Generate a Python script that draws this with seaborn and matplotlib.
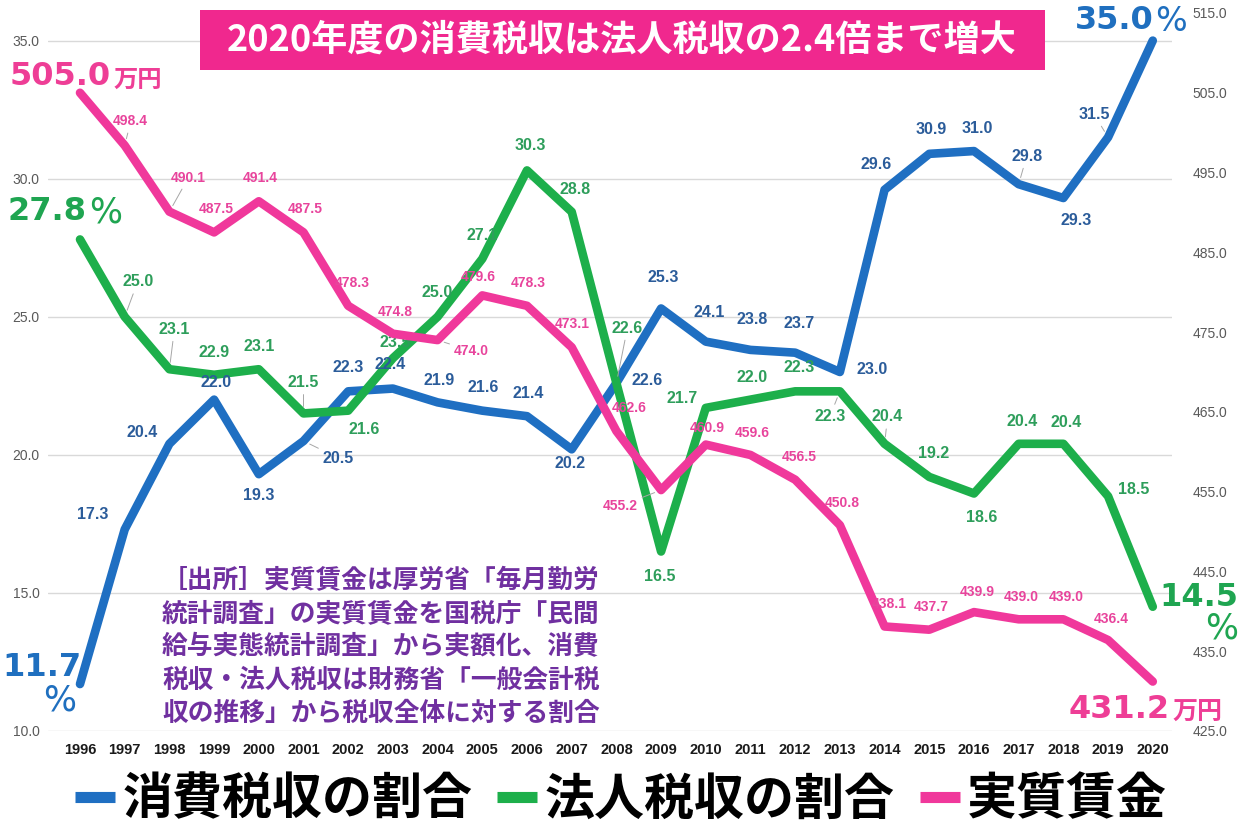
import matplotlib
matplotlib.use('Agg')
import numpy as np
import pandas as pd
import matplotlib.pyplot as plt
import seaborn as sns
from matplotlib.patches import Rectangle

# data
years = list(range(1996, 2021))
consumption_share = [11.7, 17.3, 20.4, 22.0, 19.3, 20.5, 22.3, 22.4, 21.9, 21.6, 21.4, 20.2, 22.6,
                     25.3, 24.1, 23.8, 23.7, 23.0, 29.6, 30.9, 31.0, 29.8, 29.3, 31.5, 35.0]
corporate_share = [27.8, 25.0, 23.1, 22.9, 23.1, 21.5, 21.6, 23.5, 25.0, 27.1, 30.3, 28.8, 22.6,
                   16.5, 21.7, 22.0, 22.3, 22.3, 20.4, 19.2, 18.6, 20.4, 20.4, 18.5, 14.5]
real_wage = [505.0, 498.4, 490.1, 487.5, 491.4, 487.5, 478.3, 474.8, 474.0, 479.6, 478.3, 473.1, 462.6,
             455.2, 460.9, 459.6, 456.5, 450.8, 438.1, 437.7, 439.9, 439.0, 439.0, 436.4, 431.2]

series_names = ['消費税収の割合', '法人税収の割合', '実質賃金']
left_ticks = [10, 15, 20, 25, 30, 35]
right_ticks = [425, 435, 445, 455, 465, 475, 485, 495, 505, 515]
title_text = '2020年度の消費税収は法人税収の2.4倍まで増大'
source_text = ('［出所］実質賃金は厚労省「毎月勤労\n'
               '統計調査」の実質賃金を国税庁「民間\n'
               '給与実態統計調査」から実額化、消費\n'
               '税収・法人税収は財務省「一般会計税\n'
               '収の推移」から税収全体に対する割合')

# label offsets in pixels (dx, dy up); None = big end label
blue_off = [None, (-32, 15), (-27, 11), (2, 17), (0, -21), (35, -17), (0, 24), (-3, 24), (2, 22),
            (1, 23), (1, 23), (-2, -14), (31, 3), (2, 31), (3, 29), (2, 30), (4, 29), (32, 3),
            (-8, 25), (2, 24), (3, 23), (8, 28), (13, -22), (-14, 23), None]
green_off = [None, (13, 35), (5, 40), (0, 22), (0, 23), (0, 31), (16, -19), (2, 16), (0, 24),
             (0, 23), (3, 25), (3, 22), (11, 55), (-1, -25), (-24, 9), (2, 22), (4, 24), (-10, -25),
             (3, 27), (4, 23), (8, -24), (3, 22), (3, 21), (26, 7), None]
pink_off = [None, (6, 24), (19, 34), (2, 23), (1, 23), (2, 23), (4, 23), (2, 22), (34, -11),
            (-4, 18), (1, 23), (1, 23), (13, 23), (-41, -16), (1, 17), (2, 22), (4, 23), (2, 22),
            (5, 22), (2, 23), (3, 20), (3, 22), (3, 22), (3, 21), None]
blue_leaders = [2001, 2017, 2019]
green_leaders = [1997, 1998, 2001, 2008, 2013, 2014]
pink_leaders = [1997, 1998, 2004, 2009]

BLUE = '#1F6FC2'
GREEN = '#1DAF4B'
PINK = '#F0389B'
PX = 0.72  # points per pixel at dpi 100
NUM_FONT = ['DejaVu Sans']
LAB_FONT = ['Liberation Sans', 'DejaVu Sans']


def put_labels(axis, values, offsets, leaders, color, size):
    for yr, v, off in zip(years, values, offsets):
        if off is None:
            continue
        dx, dy = off
        arrow = None
        if yr in leaders:
            arrow = dict(arrowstyle='-', color='#A6A6A6', lw=0.7, shrinkA=1, shrinkB=5)
        axis.annotate(f'{v:.1f}', xy=(yr, v), xytext=(dx * PX, dy * PX), textcoords='offset points',
                      ha='center', va='center', color=color, fontsize=size, fontweight='bold',
                      family=LAB_FONT, arrowprops=arrow, zorder=6)


def big_label(axis, yr, v, text, dx, dy, color, size, ha, weight='bold', family=NUM_FONT):
    axis.annotate(text, xy=(yr, v), xytext=(dx * PX, dy * PX), textcoords='offset points',
                  ha=ha, va='center', color=color, fontsize=size, fontweight=weight,
                  family=family, zorder=7)


def main():
    sns.set_theme(style='white')
    plt.rcParams['font.family'] = ['Noto Sans CJK JP', 'DejaVu Sans']

    df = pd.DataFrame({'year': years, 'cons': consumption_share,
                       'corp': corporate_share, 'wage': real_wage})

    fig = plt.figure(figsize=(12.42, 8.34), dpi=100, facecolor='white')
    ax = fig.add_axes([48 / 1242, 1 - 731 / 834, 1124 / 1242, 718 / 834])
    ax2 = ax.twinx()

    line_kw = dict(lw=6.2, solid_capstyle='round', solid_joinstyle='round')
    sns.lineplot(data=df, x='year', y='cons', ax=ax, color=BLUE, legend=False, **line_kw)
    sns.lineplot(data=df, x='year', y='corp', ax=ax, color=GREEN, legend=False, **line_kw)
    sns.lineplot(data=df, x='year', y='wage', ax=ax2, color=PINK, legend=False, **line_kw)
    handles = [ax.lines[0], ax.lines[1], ax2.lines[0]]

    ax.set_xlim(1995.284, 2020.43)
    ax.set_ylim(10, 36)
    ax2.set_ylim(425, 515)
    ax.set_xticks(years)
    ax.set_xticklabels([str(y) for y in years], fontsize=10.5, fontweight='bold',
                       color='#1a1a1a', family=LAB_FONT)
    ax.set_yticks(left_ticks)
    ax.set_yticklabels([f'{t:.1f}' for t in left_ticks], fontsize=10, color='#595959', family=LAB_FONT)
    ax2.set_yticks(right_ticks)
    ax2.set_yticklabels([f'{t:.1f}' for t in right_ticks], fontsize=10, color='#595959', family=LAB_FONT)
    ax.tick_params(axis='x', length=0, pad=9)
    ax.tick_params(axis='y', length=0, pad=6)
    ax2.tick_params(axis='y', length=0, pad=15)
    ax.set_xlabel('')
    ax.set_ylabel('')
    ax2.set_ylabel('')
    ax.yaxis.grid(True, color='#D9D9D9', lw=1)
    ax.xaxis.grid(False)
    ax2.grid(False)
    for a in (ax, ax2):
        for s in a.spines.values():
            s.set_visible(False)

    put_labels(ax, consumption_share, blue_off, blue_leaders, '#2B5C9A', 11.5)
    put_labels(ax, corporate_share, green_off, green_leaders, '#2E9E5B', 11.5)
    put_labels(ax2, real_wage, pink_off, pink_leaders, '#E8449C', 10)

    # big end labels
    big_label(ax2, years[0], real_wage[0], f'{real_wage[0]:.1f}', 31, 16, '#EE3E96', 23, 'right')
    big_label(ax2, years[0], real_wage[0], '万円', 34, 13, '#EE3E96', 17.5, 'left',
              family=['Noto Sans CJK JP'])
    big_label(ax, years[0], corporate_share[0], f'{corporate_share[0]:.1f}', 6, 28, '#1FA551', 23, 'right')
    big_label(ax, years[0], corporate_share[0], '%', 9, 27, '#1FA551', 25, 'left', weight='normal')
    big_label(ax, years[0], consumption_share[0], f'{consumption_share[0]:.1f}', 1, 17, '#1F6FBF', 23, 'right')
    big_label(ax, years[0], consumption_share[0], '%', -20, -16, '#1F6FBF', 25, 'center', weight='normal')
    big_label(ax, years[-1], consumption_share[-1], f'{consumption_share[-1]:.1f}', 1, 20, '#1F6FBF', 23, 'right')
    big_label(ax, years[-1], consumption_share[-1], '%', 2, 19, '#1F6FBF', 24, 'left', weight='normal')
    big_label(ax, years[-1], corporate_share[-1], f'{corporate_share[-1]:.1f}', 7, 9, '#1FA551', 23, 'left')
    big_label(ax, years[-1], corporate_share[-1], '%', 69, -22, '#1FA551', 25, 'center', weight='normal')
    big_label(ax2, years[-1], real_wage[-1], f'{real_wage[-1]:.1f}', 17, -28, '#EE3E96', 23, 'right')
    big_label(ax2, years[-1], real_wage[-1], '万円', 20, -31, '#EE3E96', 18, 'left',
              family=['Noto Sans CJK JP'])

    # title box
    fig.add_artist(Rectangle((200 / 1242, 1 - 70 / 834), 845 / 1242, 60 / 834,
                             transform=fig.transFigure, facecolor='#F0288E', edgecolor='none', zorder=8))
    fig.text(622 / 1242, 1 - 40 / 834, title_text, ha='center', va='center', color='white',
             fontsize=26, fontweight='bold', family=['Noto Sans CJK JP', 'DejaVu Sans'], zorder=9)

    # source note
    fig.text(162 / 1242, 1 - 567 / 834, source_text, ha='left', va='top', color='#7030A0',
             fontsize=18.5, fontweight='bold', linespacing=1.3,
             family=['Noto Sans CJK JP', 'DejaVu Sans'], zorder=9)

    leg = fig.legend(handles=handles, labels=series_names, loc='center',
                     bbox_to_anchor=(0.5, 1 - 800 / 834), ncol=3, frameon=False,
                     handlelength=0.8, handletextpad=0.15, columnspacing=0.5,
                     prop=dict(family=['Noto Sans CJK JP', 'DejaVu Sans'], weight='bold', size=36))
    for h in leg.legend_handles:
        h.set_linewidth(8)
        h.set_solid_capstyle('butt')
    for t in leg.get_texts():
        t.set_color('black')

    fig.savefig('out.png', dpi=100, facecolor='white')


if __name__ == '__main__':
    main()
